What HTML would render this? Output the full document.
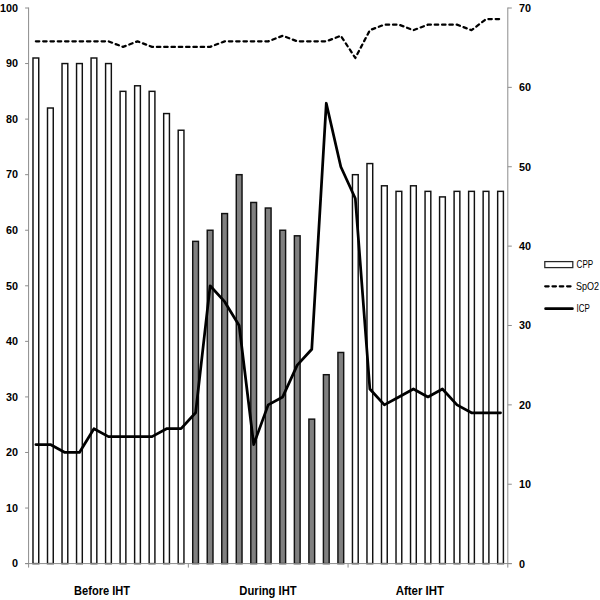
<!DOCTYPE html>
<html><head><meta charset="utf-8"><style>
html,body{margin:0;padding:0;background:#fff;}
body{width:600px;height:600px;overflow:hidden;}
svg{display:block;}
.ax{font-family:"Liberation Sans",sans-serif;font-weight:bold;font-size:10.8px;fill:#000;}
.cat{font-family:"Liberation Sans",sans-serif;font-weight:bold;font-size:12.3px;fill:#000;}
.lg{font-family:"Liberation Sans",sans-serif;font-size:10.5px;fill:#000;}
</style></head><body>
<svg width="600" height="600" viewBox="0 0 600 600">
<rect width="600" height="600" fill="#fff"/>
<rect x="32.99" y="58.00" width="5.75" height="505.60" fill="#ffffff" stroke="#111" stroke-width="1.45"/>
<rect x="47.51" y="108.01" width="5.75" height="455.59" fill="#ffffff" stroke="#111" stroke-width="1.45"/>
<rect x="62.03" y="63.56" width="5.75" height="500.04" fill="#ffffff" stroke="#111" stroke-width="1.45"/>
<rect x="76.55" y="63.56" width="5.75" height="500.04" fill="#ffffff" stroke="#111" stroke-width="1.45"/>
<rect x="91.07" y="58.00" width="5.75" height="505.60" fill="#ffffff" stroke="#111" stroke-width="1.45"/>
<rect x="105.59" y="63.56" width="5.75" height="500.04" fill="#ffffff" stroke="#111" stroke-width="1.45"/>
<rect x="120.11" y="91.34" width="5.75" height="472.26" fill="#ffffff" stroke="#111" stroke-width="1.45"/>
<rect x="134.63" y="85.78" width="5.75" height="477.82" fill="#ffffff" stroke="#111" stroke-width="1.45"/>
<rect x="149.16" y="91.34" width="5.75" height="472.26" fill="#ffffff" stroke="#111" stroke-width="1.45"/>
<rect x="163.68" y="113.56" width="5.75" height="450.04" fill="#ffffff" stroke="#111" stroke-width="1.45"/>
<rect x="178.20" y="130.23" width="5.75" height="433.37" fill="#ffffff" stroke="#111" stroke-width="1.45"/>
<rect x="192.72" y="241.35" width="5.75" height="322.25" fill="#808080" stroke="#111" stroke-width="1.45"/>
<rect x="207.24" y="230.24" width="5.75" height="333.36" fill="#808080" stroke="#111" stroke-width="1.45"/>
<rect x="221.76" y="213.57" width="5.75" height="350.03" fill="#808080" stroke="#111" stroke-width="1.45"/>
<rect x="236.28" y="174.68" width="5.75" height="388.92" fill="#808080" stroke="#111" stroke-width="1.45"/>
<rect x="250.80" y="202.46" width="5.75" height="361.14" fill="#808080" stroke="#111" stroke-width="1.45"/>
<rect x="265.32" y="208.02" width="5.75" height="355.58" fill="#808080" stroke="#111" stroke-width="1.45"/>
<rect x="279.85" y="230.24" width="5.75" height="333.36" fill="#808080" stroke="#111" stroke-width="1.45"/>
<rect x="294.37" y="235.80" width="5.75" height="327.80" fill="#808080" stroke="#111" stroke-width="1.45"/>
<rect x="308.89" y="419.14" width="5.75" height="144.46" fill="#808080" stroke="#111" stroke-width="1.45"/>
<rect x="323.41" y="374.70" width="5.75" height="188.90" fill="#808080" stroke="#111" stroke-width="1.45"/>
<rect x="337.93" y="352.47" width="5.75" height="211.13" fill="#808080" stroke="#111" stroke-width="1.45"/>
<rect x="352.45" y="174.68" width="5.75" height="388.92" fill="#ffffff" stroke="#111" stroke-width="1.45"/>
<rect x="366.97" y="163.57" width="5.75" height="400.03" fill="#ffffff" stroke="#111" stroke-width="1.45"/>
<rect x="381.49" y="185.79" width="5.75" height="377.81" fill="#ffffff" stroke="#111" stroke-width="1.45"/>
<rect x="396.02" y="191.35" width="5.75" height="372.25" fill="#ffffff" stroke="#111" stroke-width="1.45"/>
<rect x="410.54" y="185.79" width="5.75" height="377.81" fill="#ffffff" stroke="#111" stroke-width="1.45"/>
<rect x="425.06" y="191.35" width="5.75" height="372.25" fill="#ffffff" stroke="#111" stroke-width="1.45"/>
<rect x="439.58" y="196.90" width="5.75" height="366.70" fill="#ffffff" stroke="#111" stroke-width="1.45"/>
<rect x="454.10" y="191.35" width="5.75" height="372.25" fill="#ffffff" stroke="#111" stroke-width="1.45"/>
<rect x="468.62" y="191.35" width="5.75" height="372.25" fill="#ffffff" stroke="#111" stroke-width="1.45"/>
<rect x="483.14" y="191.35" width="5.75" height="372.25" fill="#ffffff" stroke="#111" stroke-width="1.45"/>
<rect x="497.66" y="191.35" width="5.75" height="372.25" fill="#ffffff" stroke="#111" stroke-width="1.45"/>
<line x1="28.6" y1="7.5" x2="28.6" y2="567.6" stroke="#8c8c8c" stroke-width="1"/>
<line x1="507.8" y1="7.5" x2="507.8" y2="567.6" stroke="#8c8c8c" stroke-width="1"/>
<line x1="25.1" y1="563.6" x2="511.8" y2="563.6" stroke="#8c8c8c" stroke-width="1"/>
<line x1="25.1" y1="563.60" x2="28.6" y2="563.60" stroke="#8c8c8c" stroke-width="1"/>
<line x1="25.1" y1="508.04" x2="28.6" y2="508.04" stroke="#8c8c8c" stroke-width="1"/>
<line x1="25.1" y1="452.48" x2="28.6" y2="452.48" stroke="#8c8c8c" stroke-width="1"/>
<line x1="25.1" y1="396.92" x2="28.6" y2="396.92" stroke="#8c8c8c" stroke-width="1"/>
<line x1="25.1" y1="341.36" x2="28.6" y2="341.36" stroke="#8c8c8c" stroke-width="1"/>
<line x1="25.1" y1="285.80" x2="28.6" y2="285.80" stroke="#8c8c8c" stroke-width="1"/>
<line x1="25.1" y1="230.24" x2="28.6" y2="230.24" stroke="#8c8c8c" stroke-width="1"/>
<line x1="25.1" y1="174.68" x2="28.6" y2="174.68" stroke="#8c8c8c" stroke-width="1"/>
<line x1="25.1" y1="119.12" x2="28.6" y2="119.12" stroke="#8c8c8c" stroke-width="1"/>
<line x1="25.1" y1="63.56" x2="28.6" y2="63.56" stroke="#8c8c8c" stroke-width="1"/>
<line x1="25.1" y1="8.00" x2="28.6" y2="8.00" stroke="#8c8c8c" stroke-width="1"/>
<line x1="507.8" y1="563.60" x2="511.8" y2="563.60" stroke="#8c8c8c" stroke-width="1"/>
<line x1="507.8" y1="484.23" x2="511.8" y2="484.23" stroke="#8c8c8c" stroke-width="1"/>
<line x1="507.8" y1="404.86" x2="511.8" y2="404.86" stroke="#8c8c8c" stroke-width="1"/>
<line x1="507.8" y1="325.49" x2="511.8" y2="325.49" stroke="#8c8c8c" stroke-width="1"/>
<line x1="507.8" y1="246.11" x2="511.8" y2="246.11" stroke="#8c8c8c" stroke-width="1"/>
<line x1="507.8" y1="166.74" x2="511.8" y2="166.74" stroke="#8c8c8c" stroke-width="1"/>
<line x1="507.8" y1="87.37" x2="511.8" y2="87.37" stroke="#8c8c8c" stroke-width="1"/>
<line x1="507.8" y1="8.00" x2="511.8" y2="8.00" stroke="#8c8c8c" stroke-width="1"/>
<line x1="188.33" y1="563.6" x2="188.33" y2="567.6" stroke="#8c8c8c" stroke-width="1"/>
<line x1="348.07" y1="563.6" x2="348.07" y2="567.6" stroke="#8c8c8c" stroke-width="1"/>
<polyline points="35.86,41.34 50.38,41.34 64.90,41.34 79.42,41.34 93.95,41.34 108.47,41.34 122.99,46.89 137.51,41.34 152.03,46.89 166.55,46.89 181.07,46.89 195.59,46.89 210.12,46.89 224.64,41.34 239.16,41.34 253.68,41.34 268.20,41.34 282.72,35.78 297.24,41.34 311.76,41.34 326.28,41.34 340.81,35.78 355.33,58.00 369.85,30.22 384.37,24.67 398.89,24.67 413.41,30.22 427.93,24.67 442.45,24.67 456.98,24.67 471.50,30.22 486.02,19.11 500.54,19.11" fill="none" stroke="#000" stroke-width="2.25" stroke-dasharray="3.45 3.85" stroke-linecap="round" stroke-linejoin="round"/>
<polyline points="35.86,444.54 50.38,444.54 64.90,452.48 79.42,452.48 93.95,428.67 108.47,436.61 122.99,436.61 137.51,436.61 152.03,436.61 166.55,428.67 181.07,428.67 195.59,412.79 210.12,285.80 224.64,301.67 239.16,325.49 253.68,444.54 268.20,404.86 282.72,396.92 297.24,365.17 311.76,349.30 326.28,103.25 340.81,166.74 355.33,198.49 369.85,388.98 384.37,404.86 398.89,396.92 413.41,388.98 427.93,396.92 442.45,388.98 456.98,404.86 471.50,412.79 486.02,412.79 500.54,412.79" fill="none" stroke="#000" stroke-width="2.75" stroke-linejoin="round" stroke-linecap="round"/>
<text x="17.9" y="567.40" text-anchor="end" class="ax">0</text>
<text x="17.9" y="511.84" text-anchor="end" class="ax">10</text>
<text x="17.9" y="456.28" text-anchor="end" class="ax">20</text>
<text x="17.9" y="400.72" text-anchor="end" class="ax">30</text>
<text x="17.9" y="345.16" text-anchor="end" class="ax">40</text>
<text x="17.9" y="289.60" text-anchor="end" class="ax">50</text>
<text x="17.9" y="234.04" text-anchor="end" class="ax">60</text>
<text x="17.9" y="178.48" text-anchor="end" class="ax">70</text>
<text x="17.9" y="122.92" text-anchor="end" class="ax">80</text>
<text x="17.9" y="67.36" text-anchor="end" class="ax">90</text>
<text x="17.9" y="11.80" text-anchor="end" class="ax">100</text>
<text x="519.0" y="567.60" class="ax">0</text>
<text x="519.0" y="488.23" class="ax">10</text>
<text x="519.0" y="408.86" class="ax">20</text>
<text x="519.0" y="329.49" class="ax">30</text>
<text x="519.0" y="250.11" class="ax">40</text>
<text x="519.0" y="170.74" class="ax">50</text>
<text x="519.0" y="91.37" class="ax">60</text>
<text x="519.0" y="12.00" class="ax">70</text>
<text x="74.1" y="595.2" class="cat" textLength="56" lengthAdjust="spacingAndGlyphs">Before IHT</text>
<text x="239.3" y="595.2" class="cat" textLength="57.4" lengthAdjust="spacingAndGlyphs">During IHT</text>
<text x="395.7" y="595.2" class="cat" textLength="48.3" lengthAdjust="spacingAndGlyphs">After IHT</text>
<rect x="544.8" y="261.6" width="28" height="6" fill="#fff" stroke="#262626" stroke-width="1.25"/>
<line x1="545.2" y1="286.3" x2="571" y2="286.3" stroke="#000" stroke-width="2.25" stroke-dasharray="3.45 3.85" stroke-linecap="round"/>
<line x1="545.6" y1="308.7" x2="572.4" y2="308.7" stroke="#000" stroke-width="2.75" stroke-linecap="round"/>
<text x="576.6" y="268.1" class="lg" textLength="16.6" lengthAdjust="spacingAndGlyphs">CPP</text>
<text x="576" y="290.2" class="lg" textLength="23" lengthAdjust="spacingAndGlyphs">SpO2</text>
<text x="576.6" y="312.3" class="lg" textLength="13.3" lengthAdjust="spacingAndGlyphs">ICP</text>
</svg>
</body></html>
